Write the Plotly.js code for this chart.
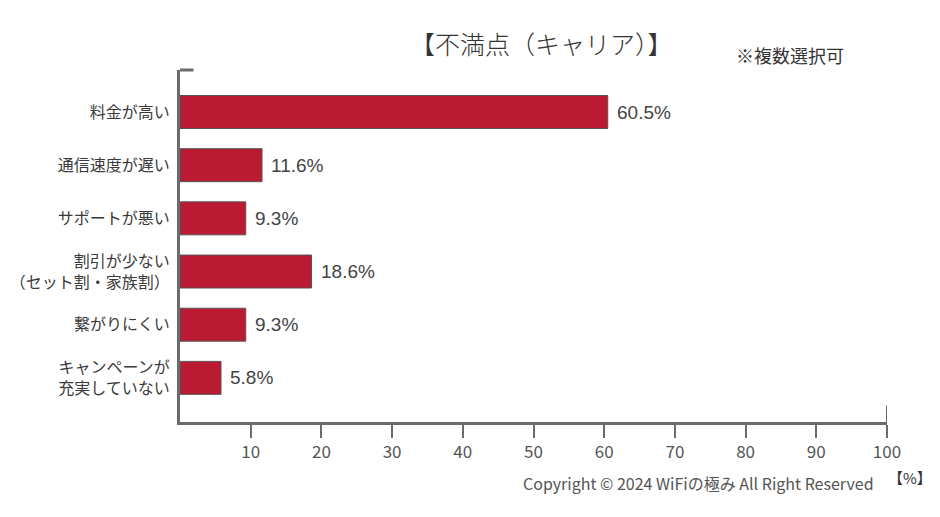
<!DOCTYPE html>
<html><head><meta charset="utf-8">
<script src="https://cdn.plot.ly/plotly-3.0.1.min.js"></script>
<style>html,body{margin:0;padding:0;background:#fff}#c{width:940px;height:517px}</style>
</head><body><div id="c"></div>
<script>
const categories = ['料金が高い','通信速度が遅い','サポートが悪い','割引が少ない<br>（セット割・家族割）','繋がりにくい','キャンペーンが<br>充実していない'];
const values = [60.5, 11.6, 9.3, 18.6, 9.3, 5.8];
const tickValues = [10,20,30,40,50,60,70,80,90,100];
const tickLabels = ['10','20','30','40','50','60','70','80','90','100'];

const FONT = '"Noto Sans CJK JP", "Noto Sans", sans-serif';
const NUMFONT = '"Liberation Sans", Arial, sans-serif';
const AX = '#6b6b6b';

const trace = {
  type: 'bar', orientation: 'h',
  x: values, y: categories,
  marker: {color: '#ba1b32', line: {color: '#555555', width: 1}},
  width: 0.62, hoverinfo: 'skip'
};

const annotations = values.map((v, i) => ({
  x: v, y: categories[i], xref: 'x', yref: 'y',
  text: v.toFixed(1) + '%', showarrow: false, xanchor: 'left', xshift: 7,
  font: {family: NUMFONT, size: 19, color: '#444'}
}));
annotations.push(
  {xref:'paper', yref:'paper', x:0.511, y:1.078, xanchor:'center', yanchor:'middle', showarrow:false,
   text:'【不満点（キャリア）】', font:{family:FONT, size:25, color:'#333', weight:300}},
  {xref:'paper', yref:'paper', x:0.863, y:1.043, xanchor:'center', yanchor:'middle', showarrow:false,
   text:'※複数選択可', font:{family:FONT, size:18, color:'#333'}},
  {xref:'paper', yref:'paper', x:0.985, y:-0.173, xanchor:'right', yanchor:'middle', showarrow:false,
   text:'Copyright © 2024 WiFiの極み All Right Reserved', font:{family:FONT, size:16, color:'#555'}},
  {xref:'paper', yref:'paper', x:1.0325, y:-0.158, xanchor:'center', yanchor:'middle', showarrow:false,
   text:'【%】', font:{family:FONT, size:15, color:'#333'}}
);

const layout = {
  width: 940, height: 517,
  margin: {l: 180, r: 53, t: 70, b: 95},
  paper_bgcolor: '#fff', plot_bgcolor: '#fff',
  showlegend: false,
  font: {family: FONT, color: '#333'},
  xaxis: {
    range: [0, 100], tickvals: tickValues, ticktext: tickLabels,
    showgrid: false, zeroline: false, showline: true, linewidth: 3, linecolor: AX,
    ticks: 'outside', ticklen: 13, tickwidth: 2, tickcolor: AX,
    tickfont: {family: FONT, size: 17, color: '#555'}, fixedrange: true
  },
  yaxis: {
    range: [5.83, -0.79], showgrid: false, zeroline: false,
    showline: true, linewidth: 3, linecolor: AX, ticks: '', ticklabelstandoff: 4,
    tickfont: {family: FONT, size: 16, color: '#3a3a3a'}, fixedrange: true
  },
  shapes: [
    {type:'line', xref:'x', yref:'paper', x0:100, x1:100, y0:0, y1:0.047, line:{color:AX, width:2}},
    {type:'line', xref:'paper', yref:'paper', x0:0, x1:0.019, y0:1, y1:1, line:{color:AX, width:3}}
  ],
  annotations: annotations
};

Plotly.newPlot('c', [trace], layout, {displayModeBar: false, staticPlot: true});
</script></body></html>
